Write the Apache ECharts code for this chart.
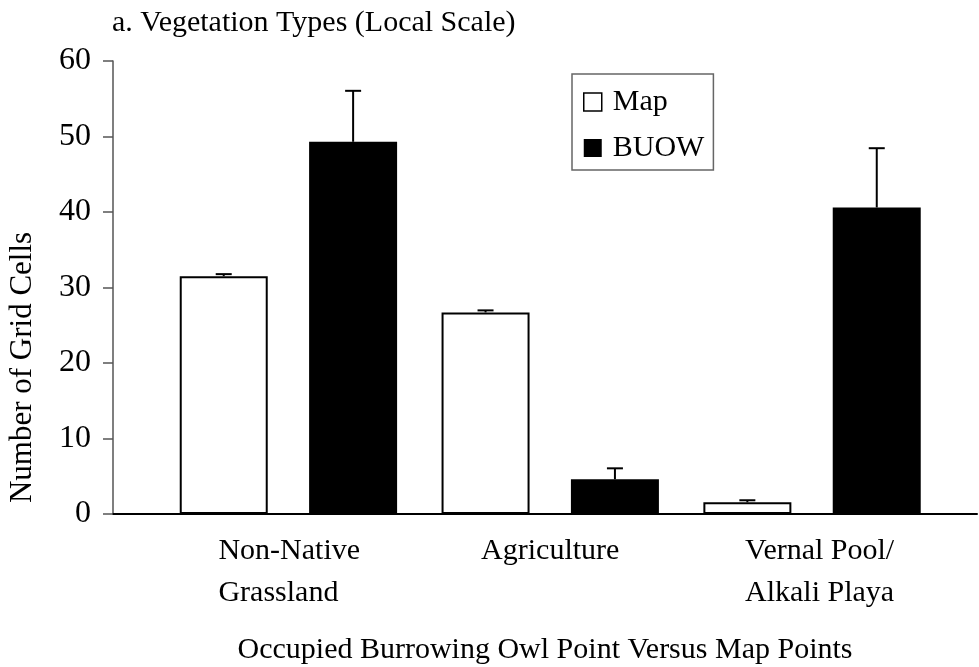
<!DOCTYPE html>
<html>
<head>
<meta charset="utf-8">
<script src="https://cdn.jsdelivr.net/npm/echarts@6/dist/echarts.min.js"></script>
<style>
  html, body { margin: 0; padding: 0; background: #fff; }
  #chart { width: 979px; height: 667px; }
</style>
</head>
<body>
<div id="chart"></div>
<script>
// categories (index on the x axis = position in this list)
var categories = [['Non-Native', 'Grassland'], ['Agriculture'], ['Vernal Pool/', 'Alkali Playa']]
var mapValues = [31.5, 26.7, 1.55]
var mapErrors = [0.27, 0.27, 0.27]
var buowValues = [49.3, 4.6, 40.6]
var buowErrors = [6.75, 1.45, 7.85]
var yTicks = [0, 10, 20, 30, 40, 50, 60]

var font = 'Liberation Serif'
var labelStyles = ['nn', 'ag', 'vp']
var chart = echarts.init(document.getElementById('chart'))

function pairs(vals, errs) {
  return vals.map(function (v, i) { return errs ? [i, v, errs[i]] : [i, v] })
}

// error bar drawn through the axes, shifted to sit on its bar
function errorBar(shift) {
  return function (params, api) {
    var x = api.value(0), v = api.value(1), e = api.value(2)
    var base = api.coord([x, v])
    var top = api.coord([x, v + e])
    var cx = base[0] + shift
    return {
      type: 'group',
      children: [
        { type: 'line', shape: { x1: cx, y1: base[1], x2: cx, y2: top[1] }, style: { stroke: '#000', lineWidth: 2 } },
        { type: 'line', shape: { x1: cx - 8, y1: top[1], x2: cx + 8, y2: top[1] }, style: { stroke: '#000', lineWidth: 2 } }
      ]
    }
  }
}

chart.setOption({
  animation: false,
  textStyle: { fontFamily: font, color: '#000' },
  title: {
    text: 'a. Vegetation Types (Local Scale)',
    left: 112, top: 8, padding: 0,
    textStyle: { fontFamily: font, fontSize: 30, fontWeight: 'normal', color: '#000' }
  },
  legend: {
    orient: 'vertical',
    left: 572, top: 74,
    padding: [13, 9, 7, 11],
    itemGap: 16,
    itemWidth: 18, itemHeight: 18,
    borderColor: '#666', borderWidth: 1.5,
    textStyle: { fontFamily: font, fontSize: 30, lineHeight: 30, color: '#000', padding: [0, 0, 0, 6] },
    data: [
      { name: 'Map', icon: 'rect', itemStyle: { color: '#fff', borderColor: '#000', borderWidth: 1.5 } },
      { name: 'BUOW', icon: 'rect' }
    ]
  },
  grid: { left: 113, top: 61, right: 2, bottom: 153, containLabel: false, outerBoundsMode: 'none' },
  xAxis: {
    type: 'value',
    min: -0.67, max: 2.63,
    name: 'Occupied Burrowing Owl Point Versus Map Points',
    nameLocation: 'middle',
    nameGap: 121,
    nameTextStyle: { fontFamily: font, fontSize: 30, color: '#000' },
    axisLine: { show: true, onZero: false, lineStyle: { color: '#000', width: 2 } },
    axisTick: { show: false },
    splitLine: { show: false },
    axisLabel: {
      customValues: [0, 1, 2],
      margin: 16,
      color: '#000',
      formatter: function (v) {
        var i = Math.round(v)
        return categories[i].map(function (s) { return '{' + labelStyles[i] + '|' + s + '}' }).join('\n')
      },
      rich: {
        nn: { fontFamily: font, fontSize: 30, lineHeight: 42, width: 140, align: 'left' },
        ag: { fontFamily: font, fontSize: 30, lineHeight: 42 },
        vp: { fontFamily: font, fontSize: 30, lineHeight: 42, width: 134, align: 'left' }
      }
    }
  },
  yAxis: {
    type: 'value',
    min: 0, max: 60, interval: 10,
    name: 'Number of Grid Cells',
    nameLocation: 'middle',
    nameGap: 75,
    nameTextStyle: { fontFamily: font, fontSize: 31, color: '#000', padding: [0, 160, 0, 0] },
    axisLine: { show: true, onZero: false, lineStyle: { color: '#555', width: 1.5 } },
    axisTick: { show: true, length: 10, lineStyle: { color: '#555', width: 1.5 } },
    splitLine: { show: false },
    axisLabel: {
      margin: 22, fontSize: 32, color: '#000',
      formatter: function (v) { return yTicks.indexOf(v) >= 0 ? String(v) : '' }
    }
  },
  series: [
    {
      name: 'Map', type: 'bar',
      barWidth: 88, barGap: '47%',
      itemStyle: { color: '#fff', borderColor: '#000', borderWidth: 2 },
      data: pairs(mapValues)
    },
    {
      name: 'BUOW', type: 'bar',
      barWidth: 88, barGap: '47%',
      itemStyle: { color: '#000' },
      data: pairs(buowValues)
    },
    {
      type: 'custom', silent: true, z: 5,
      renderItem: errorBar(-64.7),
      data: pairs(mapValues, mapErrors)
    },
    {
      type: 'custom', silent: true, z: 5,
      renderItem: errorBar(64.7),
      data: pairs(buowValues, buowErrors)
    }
  ]
})
</script>
</body>
</html>
